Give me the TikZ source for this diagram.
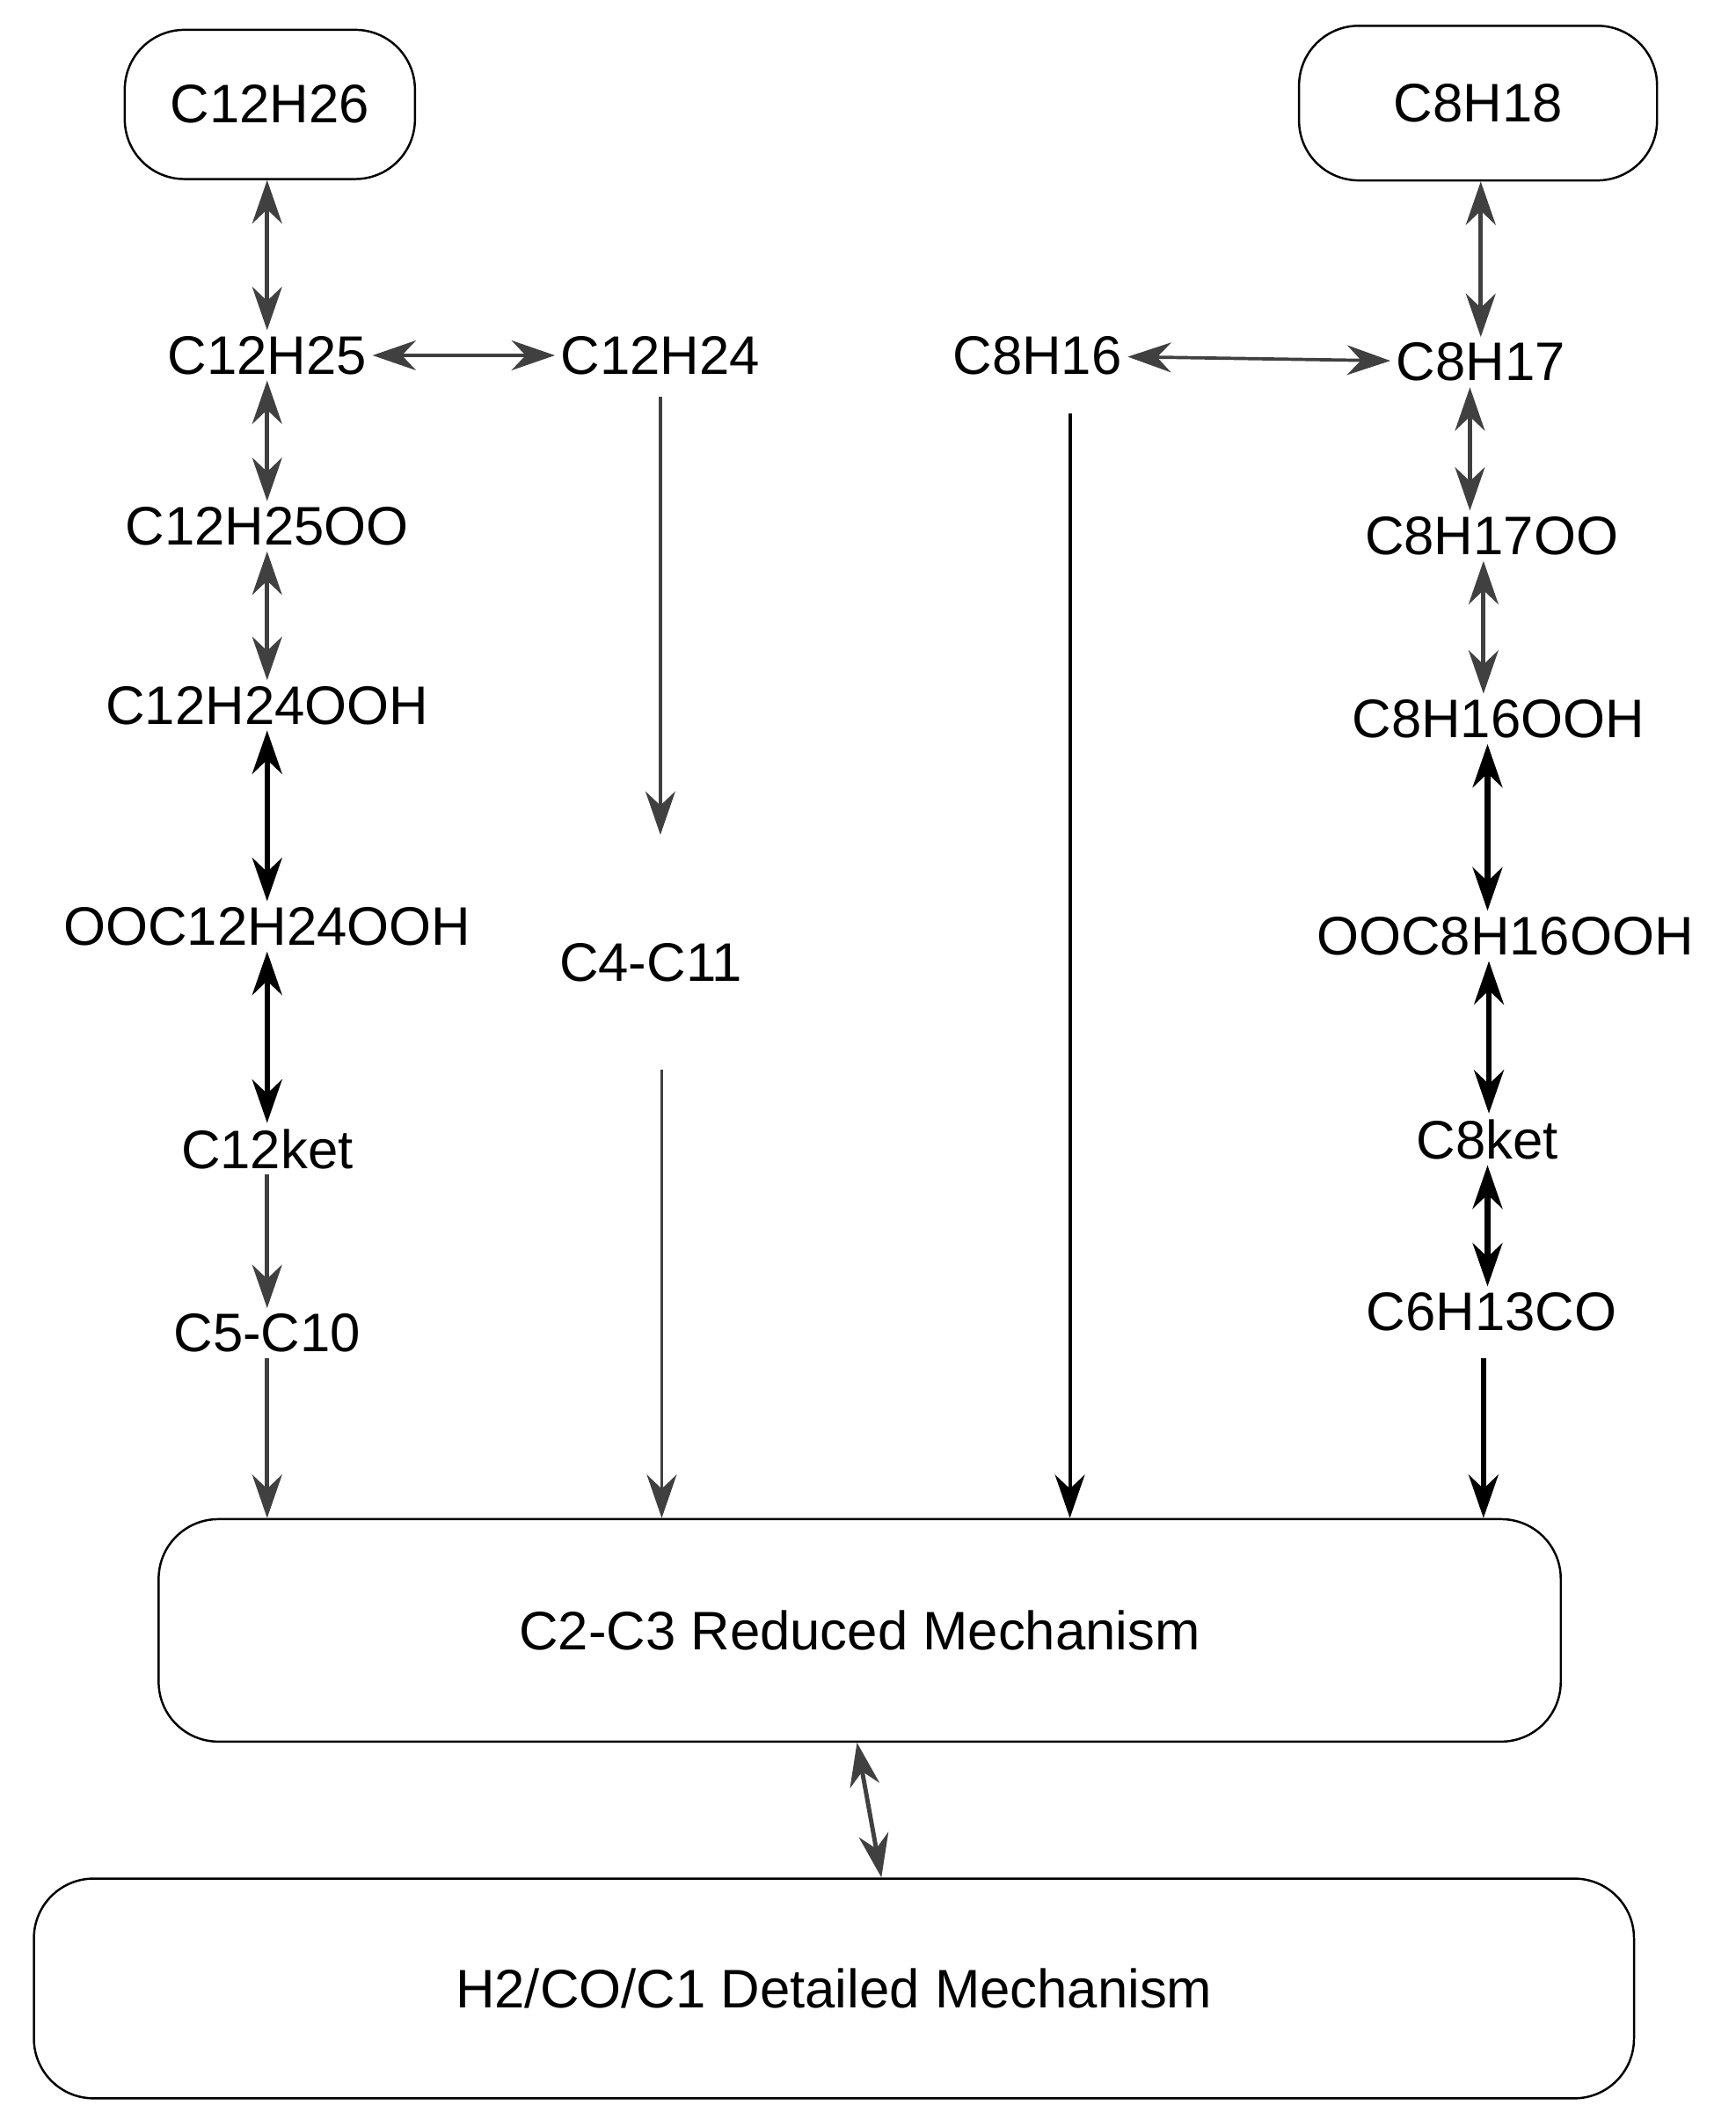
\documentclass[tikz,border=0pt]{standalone}
\usepackage{fontspec}
\setmainfont{Liberation Sans}
\usetikzlibrary{arrows.meta}
\begin{document}
\begin{tikzpicture}[x=0.5pt,y=-0.5pt,
  sp/.style={font=\fontsize{20}{24}\selectfont,inner sep=2pt},
  box/.style={sp,draw,rounded corners=22pt,line width=0.8pt},
  ar/.style={draw={rgb,255:red,64;green,64;blue,64},line width=1.6pt,-{Stealth[length=16pt,width=11pt]}},
  dar/.style={ar,{Stealth[length=16pt,width=11pt]}-{Stealth[length=16pt,width=11pt]}},
  bar/.style={dar,draw=black,line width=2pt}]
\useasboundingbox (0,0) rectangle (1280,1563);

% top boxes
\node[box,minimum width=107pt,minimum height=55pt] (c12h26) at (199,77) {C12H26};
\node[box,minimum width=132pt,minimum height=57pt] (c8h18) at (1090,76) {C8H18};

% left column
\node[sp] (c12h25) at (197,262) {C12H25};
\node[sp] (c12h24) at (487,262) {C12H24};
\node[sp] (c12h25oo) at (197,388) {C12H25OO};
\node[sp] (c12h24ooh) at (197,520) {C12H24OOH};
\node[sp] (ooc12) at (197,683) {OOC12H24OOH};
\node[sp] (c12ket) at (197,847) {C12ket};
\node[sp] (c5c10) at (197,983) {C5-C10};
\node[sp] (c4c11) at (480,710) {C4-C11};

% right column
\node[sp] (c8h16) at (765,262) {C8H16};
\node[sp] (c8h17) at (1092,267) {C8H17};
\node[sp] (c8h17oo) at (1100,395) {C8H17OO};
\node[sp] (c8h16ooh) at (1105,530) {C8H16OOH};
\node[sp] (ooc8) at (1110,690) {OOC8H16OOH};
\node[sp] (c8ket) at (1097,840) {C8ket};
\node[sp] (c6h13co) at (1100,967) {C6H13CO};

% mechanism boxes
\node[box,minimum width=517pt,minimum height=82pt] (red) at (634,1202) {C2-C3 Reduced Mechanism};
\node[box,minimum width=590pt,minimum height=81pt] (det) at (615,1466) {H2/CO/C1 Detailed Mechanism};

% connectors
\draw[dar] (c12h26.south -| c12h25) -- (c12h25.north);
\draw[dar] (c12h25) -- (c12h25oo);
\draw[dar] (c12h25oo) -- (c12h24ooh);
\draw[bar] (c12h24ooh) -- (ooc12);
\draw[bar] (ooc12) -- (c12ket);
\draw[ar] (c12ket) -- (c5c10);
\draw[ar] (c5c10) -- (c5c10 |- red.north);
\draw[dar,line width=1.2pt] (c12h25) -- (c12h24);
\draw[ar,line width=1.2pt,shorten <=6pt,shorten >=38pt] (c12h24) -- (c12h24 |- c4c11.north);
\draw[ar,line width=1.2pt] ([xshift=4pt,yshift=-30pt]c4c11.south) -- ([xshift=4pt]c4c11.south |- red.north);

\draw[dar,line width=1.2pt] (c8h16) -- (c8h17);
\draw[ar,draw=black,line width=1.3pt,shorten <=12pt] ([xshift=12pt]c8h16.south) -- ([xshift=12pt]c8h16.south |- red.north);
\draw[dar] (c8h18.south -| c8h17) -- (c8h17.north);
\draw[dar] ([xshift=-4pt]c8h17.south) -- ([xshift=-4pt]c8h17.south |- c8h17oo.north);
\draw[dar] ([xshift=-3pt]c8h17oo.south) -- ([xshift=-3pt]c8h17oo.south |- c8h16ooh.north);
\draw[bar] ([xshift=-4pt]c8h16ooh.south) -- ([xshift=-4pt]c8h16ooh.south |- ooc8.north);
\draw[bar] ([xshift=-6pt]ooc8.south) -- ([xshift=-6pt]ooc8.south |- c8ket.north);
\draw[bar] (c8ket) -- (c8ket |- c6h13co.north);
\draw[ar,draw=black,line width=1.8pt,shorten <=8pt] ([xshift=-3pt]c6h13co.south) -- ([xshift=-3pt]c6h13co.south |- red.north);

\draw[dar] ([xshift=-1pt]red.south) -- ([xshift=8pt]red.south |- det.north);
\end{tikzpicture}
\end{document}
